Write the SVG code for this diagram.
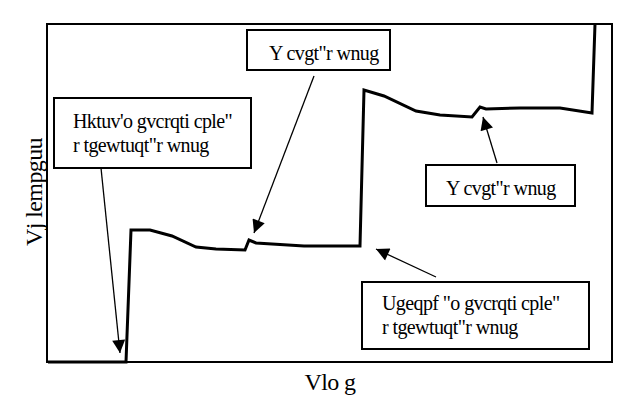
<svg xmlns="http://www.w3.org/2000/svg" width="629" height="412" viewBox="0 0 629 412">
<style>
text{font-family:"Liberation Serif",serif;font-size:20px;fill:#000;letter-spacing:-0.6px}
.ax{font-size:24px}
.box{fill:#fff;stroke:#000;stroke-width:2}
.arr{stroke:#000;stroke-width:1.3;fill:none;marker-end:url(#ah)}
</style>
<defs><marker id="ah" viewBox="0 0 10 10" refX="10" refY="5" markerWidth="16" markerHeight="13" orient="auto" markerUnits="userSpaceOnUse"><path d="M0,0L10,5L0,10z" fill="#000"/></marker></defs>
<rect x="0" y="0" width="629" height="412" fill="#fff"/>
<rect x="47" y="24" width="565" height="338" fill="none" stroke="#000" stroke-width="2"/>
<path d="M48,362 L126,362 L131,230 L150,230 L172,236 L196,247 L216,249 L245,250 L249,240 L256,243 L304,246 L360,246 L364,90 L384,96 L416,111 L440,115 L472,117 L480,107 L486,109 L520,108 L560,108 L592,113 L595,24" fill="none" stroke="#000" stroke-width="3"/>
<text class="ax" transform="translate(42,192) rotate(-90)" text-anchor="middle">Vj lempguu</text>
<text class="ax" x="330" y="390" text-anchor="middle">Vlo g</text>
<g id="connectors">
<path class="arr" d="M101,168 L120,353"/>
<path class="arr" d="M314,76 L254,233"/>
<path class="arr" d="M497,163 L483,117"/>
<path class="arr" d="M436,277 L376,249"/>
</g>
<g id="n1"><rect class="box" x="54" y="98" width="197" height="70"/><text x="73" y="128">Hktuv'o gvcrqti cple"</text><text x="73" y="152">r tgewtuqt"r wnug</text></g>
<g id="n2"><rect class="box" x="247" y="30" width="143" height="40"/><text x="269" y="60">Y cvgt"r wnug</text></g>
<g id="n3"><rect class="box" x="426" y="165" width="149" height="41"/><text x="446" y="195">Y cvgt"r wnug</text></g>
<g id="n4"><rect class="box" x="362" y="282" width="227" height="67"/><text x="382" y="310">Ugeqpf "o gvcrqti cple"</text><text x="382" y="334">r tgewtuqt"r wnug</text></g>
</svg>
